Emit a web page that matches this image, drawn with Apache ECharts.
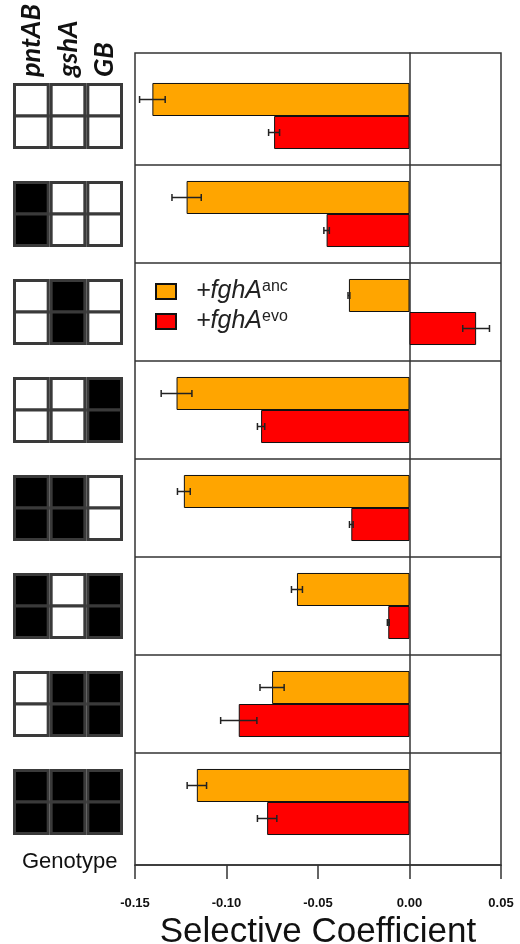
<!DOCTYPE html>
<html>
<head>
<meta charset="utf-8">
<script src="https://cdn.jsdelivr.net/npm/echarts@6/dist/echarts.min.js"></script>
<style>
  html, body { margin: 0; padding: 0; background: #fff; }
  #chart { width: 520px; height: 944px; }
</style>
</head>
<body>
<div id="chart"></div>
<script>
// genotype rows, top to bottom
const genotypes = ['WT', 'pntAB', 'gshA', 'GB', 'pntAB gshA', 'pntAB GB', 'gshA GB', 'pntAB gshA GB']
const genes = ['pntAB', 'gshA', 'GB']
// 1 = mutation present (black cell)
const pntAB = [0, 1, 0, 0, 1, 1, 0, 1]
const gshA = [0, 0, 1, 0, 1, 0, 1, 1]
const GB = [0, 0, 0, 1, 0, 1, 1, 1]

// selective coefficients
const ancValues = [-0.1405, -0.1218, -0.0331, -0.1273, -0.1233, -0.0615, -0.0751, -0.1162]
const ancErr = [0.007, 0.008, 0.0005, 0.0084, 0.0035, 0.003, 0.0066, 0.0053]
const evoValues = [-0.074, -0.0453, 0.0364, -0.0811, -0.0318, -0.0116, -0.0933, -0.0778]
const evoErr = [0.003, 0.0015, 0.0073, 0.002, 0.001, 0.0005, 0.0099, 0.0053]

const xTicks = [-0.15, -0.1, -0.05, 0, 0.05]

const chart = echarts.init(document.getElementById('chart'))

const geneCols = [pntAB, gshA, GB]
const cellData = []
genotypes.forEach((g, i) => {
  geneCols.forEach((col, j) => {
    cellData.push([j, i, col[i]])
  })
})

const BAR_FRAC = 0.3367 // bar thickness as part of the category band

function errorBars(values, errs, side) {
  return {
    type: 'custom',
    xAxisIndex: 1,
    yAxisIndex: 1,
    silent: true,
    z: 5,
    data: values.map((v, i) => [v, i, errs[i]]),
    renderItem: (params, api) => {
      const v = api.value(0)
      const i = api.value(1)
      const e = api.value(2)
      const band = api.size([0, 1])[1]
      const c = api.coord([v, i])
      const y = c[1] + side * band * BAR_FRAC / 2
      const x1 = api.coord([v - e, i])[0]
      const x2 = api.coord([v + e, i])[0]
      const cap = 3.5
      const style = { stroke: '#222', lineWidth: 1.5 }
      return {
        type: 'group',
        children: [
          { type: 'line', shape: { x1: x1, y1: y, x2: x2, y2: y }, style: style },
          { type: 'line', shape: { x1: x1, y1: y - cap, x2: x1, y2: y + cap }, style: style },
          { type: 'line', shape: { x1: x2, y1: y - cap, x2: x2, y2: y + cap }, style: style }
        ]
      }
    }
  }
}

const option = {
  backgroundColor: '#fff',
  animation: false,
  title: [
    {
      text: 'Genotype',
      left: 17,
      top: 846,
      textStyle: { fontFamily: 'Liberation Sans', fontSize: 22, fontWeight: 'normal', color: '#111' }
    }
  ],
  legend: {
    left: 150,
    top: 274,
    orient: 'vertical',
    icon: 'rect',
    itemWidth: 20,
    itemHeight: 15,
    itemGap: 5,
    selectedMode: false,
    data: ['anc', 'evo'],
    formatter: (name) => '{i|+fghA}{s|' + name + '}',
    textStyle: {
      padding: [0, 0, 0, 15],
      rich: {
        i: { fontFamily: 'Liberation Sans', fontStyle: 'italic', fontSize: 25, color: '#222' },
        s: { fontFamily: 'Liberation Sans', fontSize: 16, color: '#222', verticalAlign: 'top' }
      }
    }
  },
  grid: [
    // outer frame
    { left: 135, right: 19, top: 53, bottom: 79, outerBoundsMode: 'none', show: true, borderColor: '#333', borderWidth: 1.5, backgroundColor: 'transparent' },
    // bars
    { left: 135, right: 19, top: 67, bottom: 93, outerBoundsMode: 'none' },
    // genotype icons
    { left: 13, width: 110, top: 67, bottom: 93, outerBoundsMode: 'none' }
  ],
  xAxis: [
    {
      gridIndex: 0,
      type: 'value',
      min: xTicks[0],
      max: xTicks[xTicks.length - 1],
      interval: 0.05,
      name: 'Selective Coefficient',
      nameLocation: 'middle',
      nameGap: 48,
      nameTextStyle: { fontFamily: 'Liberation Sans', fontSize: 35, color: '#111' },
      axisLine: { onZero: false, lineStyle: { color: '#333', width: 1.5 } },
      axisTick: { show: true, inside: false, length: 14, lineStyle: { color: '#333', width: 1.5 } },
      axisLabel: {
        margin: 32,
        fontFamily: 'Liberation Sans',
        fontWeight: 'bold',
        fontSize: 13,
        color: '#111',
        formatter: (v) => v.toFixed(2)
      },
      splitLine: { show: false }
    },
    {
      gridIndex: 1,
      type: 'value',
      min: xTicks[0],
      max: xTicks[xTicks.length - 1],
      interval: 0.05,
      show: false
    },
    {
      gridIndex: 2,
      type: 'category',
      position: 'top',
      data: genes,
      axisLine: { show: false },
      axisTick: { show: false },
      axisLabel: {
        rotate: -90,
        margin: -10,
        interval: 0,
        fontFamily: 'Lato',
        fontStyle: 'italic',
        fontWeight: 'bold',
        fontSize: 27,
        color: '#111'
      }
    }
  ],
  yAxis: [
    {
      // only its line is drawn, at x = 0
      gridIndex: 0,
      type: 'value',
      min: 0,
      max: 1,
      axisLine: { show: true, onZero: true, lineStyle: { color: '#333', width: 1.5 } },
      axisTick: { show: false },
      axisLabel: { show: false },
      splitLine: { show: false }
    },
    {
      gridIndex: 1,
      type: 'category',
      inverse: true,
      data: genotypes,
      axisLine: { show: false },
      axisTick: { show: false },
      axisLabel: { show: false },
      splitLine: {
        show: true,
        interval: 0,
        showMinLine: false,
        showMaxLine: false,
        lineStyle: { color: '#333', width: 1.5 }
      }
    },
    {
      gridIndex: 2,
      type: 'category',
      inverse: true,
      data: genotypes,
      show: false
    }
  ],
  series: [
    {
      name: 'anc',
      type: 'bar',
      xAxisIndex: 1,
      yAxisIndex: 1,
      data: ancValues,
      barGap: 0,
      barCategoryGap: '32.6%',
      itemStyle: { color: '#FFA500', borderColor: '#111', borderWidth: 1 }
    },
    {
      name: 'evo',
      type: 'bar',
      xAxisIndex: 1,
      yAxisIndex: 1,
      data: evoValues,
      barGap: 0,
      barCategoryGap: '32.6%',
      itemStyle: { color: '#FF0000', borderColor: '#111', borderWidth: 1 }
    },
    errorBars(ancValues, ancErr, -1),
    errorBars(evoValues, evoErr, 1),
    {
      type: 'custom',
      xAxisIndex: 2,
      yAxisIndex: 2,
      silent: true,
      data: cellData,
      renderItem: (params, api) => {
        const c = api.coord([api.value(0), api.value(1)])
        const s = api.size([1, 1])
        const w = s[0]
        const h = s[1] * BAR_FRAC
        const fill = api.value(2) ? '#000' : '#fff'
        const style = { fill: fill, stroke: '#3a3a3a', lineWidth: 3 }
        return {
          type: 'group',
          children: [
            { type: 'rect', shape: { x: c[0] - w / 2 + 1.5, y: c[1] - h + 1.5, width: w - 3, height: h - 1.5 }, style: style },
            { type: 'rect', shape: { x: c[0] - w / 2 + 1.5, y: c[1], width: w - 3, height: h - 1.5 }, style: style }
          ]
        }
      }
    }
  ]
}

chart.setOption(option)
</script>
</body>
</html>
